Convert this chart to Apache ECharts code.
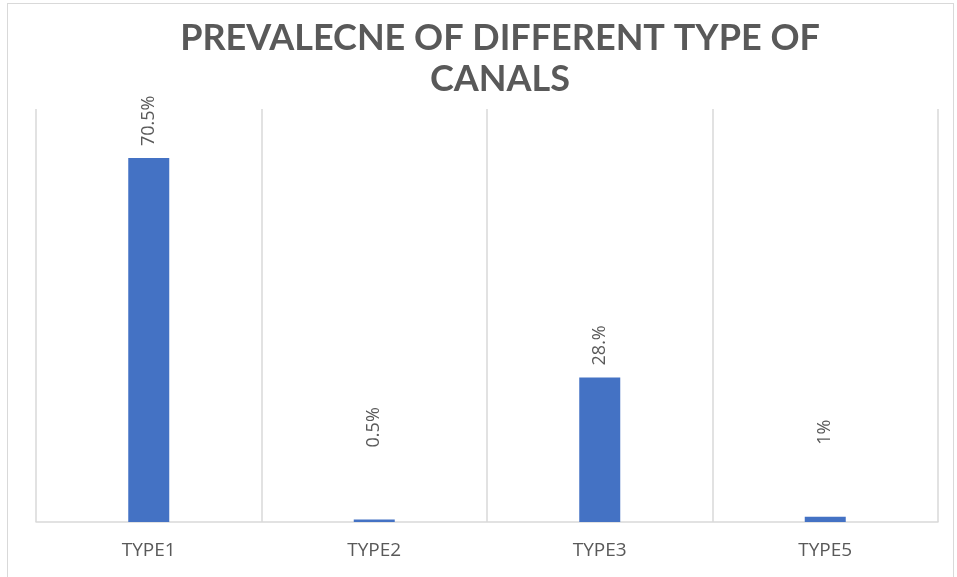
<!DOCTYPE html>
<html>
<head>
<meta charset="utf-8">
<script src="https://cdn.jsdelivr.net/npm/echarts@6/dist/echarts.min.js"></script>
<style>
  html, body { margin: 0; padding: 0; background: #fff; }
  #frame { position: absolute; left: 7px; top: 3px; width: 947px; height: 590px; border: 1px solid #d9d9d9; box-sizing: border-box; }
  #chart { position: absolute; left: 0; top: 0; width: 957px; height: 577px; }
</style>
</head>
<body>
<div id="frame"></div>
<div id="chart"></div>
<script>
const titleText = 'PREVALECNE OF DIFFERENT TYPE OF\nCANALS';
const categories = ['TYPE1', 'TYPE2', 'TYPE3', 'TYPE5'];
const prevalence = [70.5, 0.5, 28, 1];
const valueLabels = ['70.5%', '0.5%', '28.%', '1%'];
// labels of the two thin bars sit higher above their bars
const labelGaps = [12, 72, 12, 72];

const chart = echarts.init(document.getElementById('chart'), null, { renderer: 'canvas' });
chart.setOption({
  backgroundColor: 'transparent',
  animation: false,
  title: {
    text: titleText,
    left: 495,
    textAlign: 'center',
    top: 13,
    textStyle: {
      fontFamily: 'Lato',
      fontWeight: 'bold',
      fontSize: 36,
      lineHeight: 41,
      color: '#595959'
    }
  },
  grid: { left: 36, right: 19, top: 109, bottom: 55 },
  xAxis: {
    type: 'category',
    data: categories,
    axisLine: { show: true, lineStyle: { color: '#d9d9d9', width: 1.5 } },
    axisTick: { show: false },
    splitLine: { show: true, lineStyle: { color: '#d9d9d9', width: 1.5 } },
    axisLabel: {
      margin: 19,
      fontFamily: 'Open Sans',
      fontSize: 19,
      color: '#595959'
    }
  },
  yAxis: {
    type: 'value',
    min: 0,
    max: 80,
    show: false,
    splitLine: { show: false }
  },
  series: [{
    type: 'bar',
    data: prevalence.map((v, i) => ({
      value: v,
      label: { distance: labelGaps[i] }
    })),
    barWidth: 41,
    itemStyle: { color: '#4472C4' },
    label: {
      show: true,
      position: 'top',
      rotate: 90,
      align: 'left',
      verticalAlign: 'middle',
      fontFamily: 'Open Sans',
      fontSize: 18,
      color: '#595959',
      formatter: p => valueLabels[p.dataIndex]
    }
  }]
});
</script>
</body>
</html>
